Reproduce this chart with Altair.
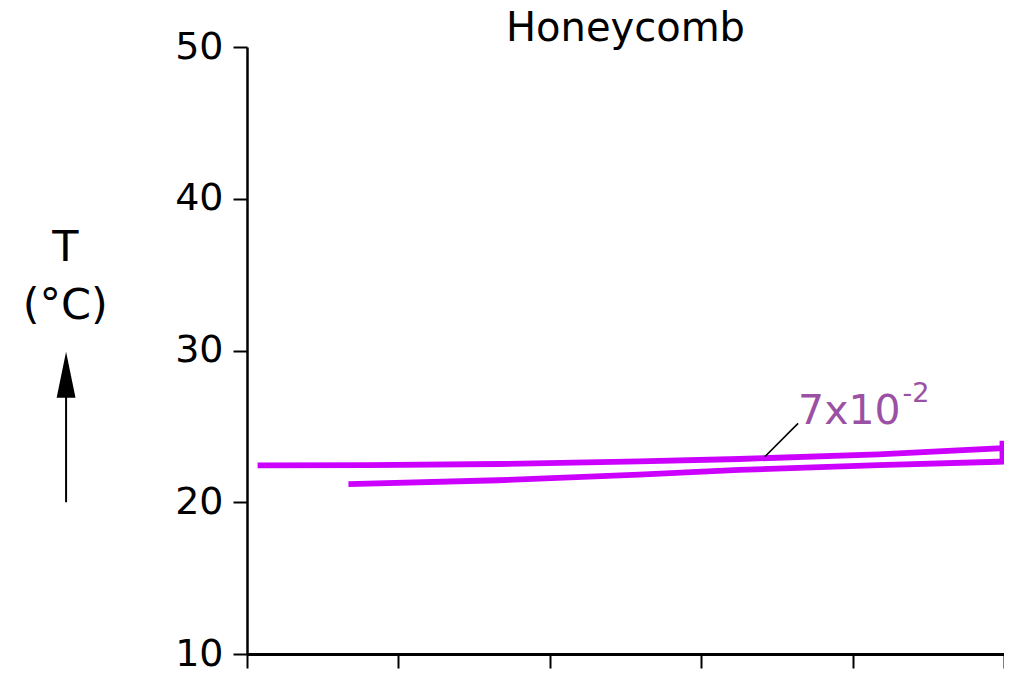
import altair as alt
import pandas as pd

# ---- data ----
upper_x = [0.07, 0.80, 1.66, 2.59, 3.25, 4.17, 4.99]
upper_t = [22.43, 22.45, 22.52, 22.70, 22.85, 23.16, 23.56]
edge_x = [4.99, 4.99]
edge_t = [24.05, 22.68]
lower_x = [4.96, 4.17, 3.25, 2.59, 1.66, 0.67]
lower_t = [22.67, 22.44, 22.13, 21.82, 21.45, 21.20]

y_ticks = [10, 20, 30, 40, 50]
x_ticks = [0, 1, 2, 3, 4, 5]

title_text = "Honeycomb"
label_main = "7x10"
label_sup = "-2"
y_label_lines = ["T", "(°C)"]

FONT = "DejaVu Sans"
LINE_COLOR = "#CC00FF"
LABEL_COLOR = "#9B51A3"

xs = upper_x + edge_x + lower_x
ts = upper_t + edge_t + lower_t
curve = pd.DataFrame({"x": xs, "T": ts, "i": list(range(len(xs)))})

x_scale = alt.Scale(domain=[0, 5], nice=False, zero=False)
y_scale = alt.Scale(domain=[10, 50], nice=False, zero=False)

line = alt.Chart(curve).mark_line(
    color=LINE_COLOR, strokeWidth=5.8, strokeJoin="miter", strokeCap="butt"
).encode(
    x=alt.X("x:Q", scale=x_scale,
            axis=alt.Axis(values=x_ticks, labels=False, title="", grid=False,
                          tickSize=14, tickWidth=2, tickColor="black",
                          domainColor="black", domainWidth=3)),
    y=alt.Y("T:Q", scale=y_scale,
            axis=alt.Axis(values=y_ticks, title="", grid=False, tickSize=14,
                          tickWidth=2, tickColor="black", domainColor="black",
                          domainWidth=2.5, labelFont=FONT, labelFontSize=38,
                          labelColor="black", labelPadding=10)),
    order="i:Q",
)

leader_df = pd.DataFrame({"x": [3.42], "T": [23.0], "x2": [3.64], "T2": [25.2]})
leader = alt.Chart(leader_df).mark_rule(color="black", strokeWidth=1.6).encode(
    x="x:Q", y="T:Q", x2="x2:Q", y2="T2:Q"
)

main_df = pd.DataFrame({"x": [3.64], "T": [25.15], "label": [label_main]})
main_txt = alt.Chart(main_df).mark_text(
    font=FONT, fontSize=41, color=LABEL_COLOR, align="left", baseline="alphabetic"
).encode(x="x:Q", y="T:Q", text="label:N")

sup_df = pd.DataFrame({"x": [4.33], "T": [26.6], "label": [label_sup]})
sup_txt = alt.Chart(sup_df).mark_text(
    font=FONT, fontSize=27, color=LABEL_COLOR, align="left", baseline="alphabetic"
).encode(x="x:Q", y="T:Q", text="label:N")

ylab_df = pd.DataFrame({"x": [-1.2, -1.2], "T": [35.9, 32.1], "label": y_label_lines})
ylab = alt.Chart(ylab_df).mark_text(
    font=FONT, fontSize=43, color="black", align="center", baseline="alphabetic"
).encode(x="x:Q", y="T:Q", text="label:N")

arrow_df = pd.DataFrame({"x": [-1.195], "T": [20.0], "T2": [27.5]})
arrow_shaft = alt.Chart(arrow_df).mark_rule(color="black", strokeWidth=2).encode(
    x="x:Q", y="T:Q", y2="T2:Q"
)
head_df = pd.DataFrame({"x": [-1.195], "T": [28.4]})
arrow_head = alt.Chart(head_df).mark_point(
    shape="M0,-1L0.41,1L-0.41,1Z", filled=True, size=2116, color="black",
    opacity=1, strokeWidth=0
).encode(x="x:Q", y="T:Q")

chart = alt.layer(
    line, leader, main_txt, sup_txt, ylab, arrow_shaft, arrow_head
).properties(
    width=757,
    height=607,
    title=alt.TitleParams(text=title_text, font=FONT, fontSize=40,
                          fontWeight="normal", color="black", anchor="middle",
                          frame="group", offset=-21),
    padding={"left": 239, "top": 39, "right": 0, "bottom": 15},
    autosize=alt.AutoSizeParams(type="none"),
).configure(background="white").configure_view(stroke="transparent", strokeWidth=0)

chart.save("out.html", embed_options={"renderer": "svg", "actions": False})
